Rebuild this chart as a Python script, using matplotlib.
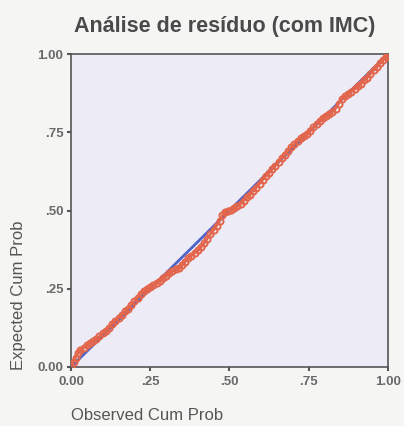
import matplotlib
matplotlib.use("Agg")
import matplotlib.pyplot as plt

observed = [0.000, 0.008, 0.015, 0.022, 0.030, 0.040, 0.050, 0.060, 0.070, 0.080,
            0.090, 0.100, 0.110, 0.120, 0.130, 0.140, 0.150, 0.160, 0.170, 0.180,
            0.190, 0.200, 0.210, 0.220, 0.230, 0.240, 0.250, 0.260, 0.270, 0.280,
            0.290, 0.300, 0.310, 0.320, 0.330, 0.340, 0.350, 0.360, 0.370, 0.380,
            0.390, 0.400, 0.410, 0.420, 0.430, 0.440, 0.450, 0.460, 0.470, 0.478,
            0.485, 0.495, 0.505, 0.515, 0.525, 0.535, 0.545, 0.555, 0.565, 0.575,
            0.585, 0.595, 0.605, 0.615, 0.625, 0.635, 0.645, 0.655, 0.665, 0.675,
            0.685, 0.695, 0.705, 0.715, 0.725, 0.735, 0.745, 0.755, 0.765, 0.775,
            0.785, 0.795, 0.805, 0.815, 0.825, 0.835, 0.845, 0.855, 0.865, 0.875,
            0.885, 0.895, 0.905, 0.915, 0.925, 0.935, 0.945, 0.955, 0.965, 0.975,
            0.985, 0.993, 1.000]
expected = [0.000, 0.015, 0.030, 0.045, 0.055, 0.062, 0.070, 0.078, 0.083, 0.090,
            0.098, 0.108, 0.115, 0.125, 0.138, 0.148, 0.156, 0.165, 0.178, 0.186,
            0.198, 0.210, 0.220, 0.232, 0.243, 0.250, 0.255, 0.262, 0.268, 0.276,
            0.285, 0.292, 0.302, 0.306, 0.312, 0.316, 0.326, 0.336, 0.348, 0.356,
            0.365, 0.373, 0.383, 0.395, 0.410, 0.424, 0.437, 0.452, 0.468, 0.485,
            0.495, 0.500, 0.503, 0.508, 0.514, 0.522, 0.532, 0.542, 0.551, 0.562,
            0.573, 0.585, 0.598, 0.610, 0.620, 0.632, 0.643, 0.656, 0.668, 0.678,
            0.690, 0.703, 0.712, 0.722, 0.731, 0.738, 0.745, 0.754, 0.766, 0.776,
            0.786, 0.795, 0.801, 0.808, 0.815, 0.826, 0.842, 0.856, 0.865, 0.872,
            0.880, 0.888, 0.897, 0.906, 0.916, 0.925, 0.936, 0.948, 0.958, 0.970,
            0.982, 0.992, 1.000]
diag = [0.0, 1.0]
tick_vals = [0.0, 0.25, 0.5, 0.75, 1.0]
tick_labels = ["0.00", ".25", ".50", ".75", "1.00"]

plt.rcParams['font.family'] = ['Liberation Sans', 'DejaVu Sans']

fig = plt.figure(figsize=(4.04, 4.26), dpi=100, facecolor="#f5f5f3")
ax = fig.add_axes([0.1757, 0.1385, 0.7843, 0.7345])
ax.set_facecolor("#ecebf6")

ax.plot(diag, diag, color="#4f63c9", lw=2.0, zorder=2)
ax.plot(observed, expected, linestyle="none", marker="o", markersize=4.4,
        markerfacecolor="none", markeredgecolor="#e2654c", markeredgewidth=1.4, zorder=3)
ax.plot(observed, expected, color="#e2654c", lw=1.8, zorder=3)

ax.set_xlim(0, 1)
ax.set_ylim(0, 1)
ax.set_xticks(tick_vals)
ax.set_xticklabels(tick_labels)
ax.set_yticks(tick_vals)
ax.set_yticklabels(tick_labels)
ax.tick_params(direction="out", length=3, width=1.5, colors="#555555",
               labelsize=9.5)
ax.tick_params(axis="x", pad=3.5)
ax.tick_params(axis="y", pad=2.5)
for lab in ax.get_xticklabels() + ax.get_yticklabels():
    lab.set_fontweight("bold")
    lab.set_color("#6a6a6a")
for s in ax.spines.values():
    s.set_color("#555555")
    s.set_linewidth(1.2)

fig.text(0.555, 0.937, "Análise de resíduo (com IMC)", ha="center", va="center",
         fontsize=15.5, fontweight="bold", color="#4a4a4a")
fig.text(0.046, 0.306, "Expected Cum Prob", rotation=90, ha="center", va="center",
         fontsize=12, color="#555555")
fig.text(0.176, 0.024, "Observed Cum Prob", ha="left", va="center",
         fontsize=12, color="#555555")

fig.savefig("out.png", dpi=100, facecolor=fig.get_facecolor())
